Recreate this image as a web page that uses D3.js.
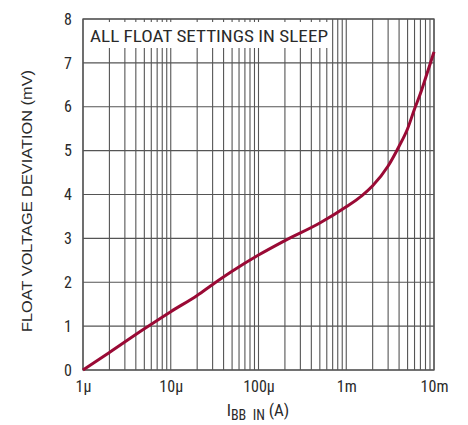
<!DOCTYPE html>
<html><head><meta charset="utf-8">
<script src="https://cdn.jsdelivr.net/npm/d3@7"></script>
<style>body{margin:0;background:#fff}svg{display:block}text{font-family:"Liberation Sans Narrow","Arial Narrow","Roboto Condensed","Liberation Sans",sans-serif;fill:#2a2a2a}</style>
</head><body><svg id="c" width="468" height="425"></svg>
<script>
const currentA = [1e-6, 2e-6, 5e-6, 1e-5, 2e-5, 3e-5, 5e-5, 1e-4, 2e-4, 5e-4, 1e-3, 1.5e-3, 2e-3, 3e-3, 4e-3, 5e-3, 6e-3, 7e-3, 8e-3, 1e-2];
const deviationMV = [0, 0.4, 0.94, 1.33, 1.7, 1.95, 2.25, 2.62, 2.95, 3.35, 3.72, 3.97, 4.2, 4.65, 5.1, 5.5, 5.95, 6.3, 6.65, 7.25];
const xTickValues = [1e-6, 1e-5, 1e-4, 1e-3, 1e-2];
const xTickLabels = ["1µ", "10µ", "100µ", "1m", "10m"];
const yTickValues = [0, 1, 2, 3, 4, 5, 6, 7, 8];

const svg = d3.select("#c");
const L = 83, R = 434, T = 19, B = 370;
const x = d3.scaleLog().domain([1e-6, 1e-2]).range([L, R]);
const y = d3.scaleLinear().domain([0, 8]).range([B, T]);

// minor vertical grid
const minor = [];
for (let d = -6; d < -2; d++) for (let k = 1; k <= 9; k++) minor.push(k * Math.pow(10, d));
minor.push(1e-2);
const g = svg.append("g");
g.selectAll("line.v").data(minor).join("line")
  .attr("x1", d => x(d)).attr("x2", d => x(d)).attr("y1", T).attr("y2", B)
  .attr("stroke", "#555").attr("stroke-width", 1.1);
g.selectAll("line.h").data(yTickValues).join("line")
  .attr("x1", L).attr("x2", R).attr("y1", d => y(d)).attr("y2", d => y(d))
  .attr("stroke", "#555").attr("stroke-width", 1.1);

// label box
svg.append("rect").attr("x", L + 1).attr("y", T + 3).attr("width", 247).attr("height", 26).attr("fill", "#fff");
svg.append("text").attr("x", 90).attr("y", 42).attr("font-size", 17).attr("textLength", 238).attr("lengthAdjust", "spacingAndGlyphs").text("ALL FLOAT SETTINGS IN SLEEP");

// border
svg.append("rect").attr("x", L).attr("y", T).attr("width", R - L).attr("height", B - T)
  .attr("fill", "none").attr("stroke", "#555").attr("stroke-width", 1.3);

// curve
const pts = currentA.map((c, i) => [c, deviationMV[i]]);
svg.append("path").datum(pts)
  .attr("d", d3.line().x(d => x(d[0])).y(d => y(d[1])).curve(d3.curveMonotoneX))
  .attr("fill", "none").attr("stroke", "#9a0a35").attr("stroke-width", 3);

// axes
const xAxis = d3.axisBottom(x).tickValues(xTickValues).tickFormat((d, i) => xTickLabels[i]).tickSize(0).tickPadding(11);
const xg = svg.append("g").attr("transform", `translate(0,${B})`).call(xAxis);
xg.select(".domain").remove();
xg.selectAll("text").attr("font-size", 16).attr("fill", "#2a2a2a").attr("font-family", null);

const yAxis = d3.axisLeft(y).tickValues(yTickValues).tickFormat(d3.format("d")).tickSize(0).tickPadding(11);
const yg = svg.append("g").attr("transform", `translate(${L},0)`).call(yAxis);
yg.select(".domain").remove();
yg.selectAll("text").attr("font-size", 16).attr("fill", "#2a2a2a").attr("font-family", null);

// axis titles
const xt = svg.append("text").attr("x", 258).attr("y", 416).attr("text-anchor", "middle").attr("font-size", 17);
xt.append("tspan").text("I");
xt.append("tspan").attr("dy", 4).attr("font-size", 14).text("BB\u00a0\u00a0IN");
xt.append("tspan").attr("dy", -4).text(" (A)");

svg.append("text").attr("transform", `translate(32,201) rotate(-90)`).attr("text-anchor", "middle")
  .style("font-family", '"Liberation Sans", Arial, sans-serif').attr("font-size", 15)
  .attr("textLength", 262).attr("lengthAdjust", "spacingAndGlyphs").text("FLOAT VOLTAGE DEVIATION (mV)");
</script></body></html>
